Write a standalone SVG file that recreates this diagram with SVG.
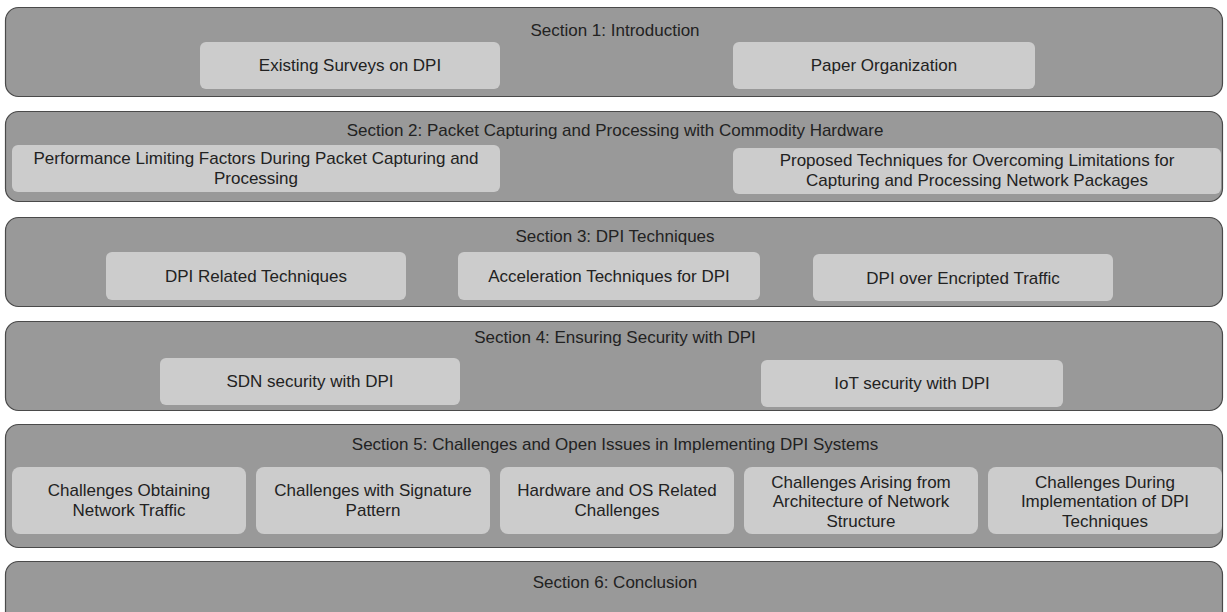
<svg xmlns="http://www.w3.org/2000/svg" width="1227" height="612" viewBox="0 0 1227 612">
<style>
.sec{fill:#999999;stroke:#4a4a4a;stroke-width:1.2}
.box{fill:#cccccc;stroke:none}
text{font-family:"Liberation Sans",Arial,sans-serif;font-size:17px;fill:#222222;text-anchor:middle}
</style>
<rect width="1227" height="612" fill="#ffffff"/>
<g id="section1">
<rect class="sec" x="5.5" y="7.5" width="1217" height="89" rx="13"/>
<text x="615" y="36">Section 1: Introduction</text>
</g>
<g id="s1-surveys"><rect class="box" x="200" y="42" width="300" height="47" rx="6"/><text x="350" y="71">Existing Surveys on DPI</text></g>
<g id="s1-organization"><rect class="box" x="733" y="42" width="302" height="47" rx="6"/><text x="884" y="71">Paper Organization</text></g>

<g id="section2">
<rect class="sec" x="5.5" y="111.5" width="1217" height="90" rx="13"/>
<text x="615" y="136">Section 2: Packet Capturing and Processing with Commodity Hardware</text>
</g>
<g id="s2-factors"><rect class="box" x="12" y="145" width="488" height="47" rx="6"/><text x="256" y="164">Performance Limiting Factors During Packet Capturing and</text><text x="256" y="184">Processing</text></g>
<g id="s2-techniques"><rect class="box" x="733" y="148" width="488" height="46" rx="6"/><text x="977" y="166">Proposed Techniques for Overcoming Limitations for</text><text x="977" y="186">Capturing and Processing Network Packages</text></g>

<g id="section3">
<rect class="sec" x="5.5" y="217.5" width="1217" height="89" rx="13"/>
<text x="615" y="242">Section 3: DPI Techniques</text>
</g>
<g id="s3-related"><rect class="box" x="106" y="252" width="300" height="48" rx="6"/><text x="256" y="282">DPI Related Techniques</text></g>
<g id="s3-acceleration"><rect class="box" x="458" y="252" width="302" height="48" rx="6"/><text x="609" y="282">Acceleration Techniques for DPI</text></g>
<g id="s3-encrypted"><rect class="box" x="813" y="254" width="300" height="47" rx="6"/><text x="963" y="284">DPI over Encripted Traffic</text></g>

<g id="section4">
<rect class="sec" x="5.5" y="321.5" width="1217" height="89" rx="13"/>
<text x="615" y="343">Section 4: Ensuring Security with DPI</text>
</g>
<g id="s4-sdn"><rect class="box" x="160" y="358" width="300" height="47" rx="6"/><text x="310" y="387">SDN security with DPI</text></g>
<g id="s4-iot"><rect class="box" x="761" y="360" width="302" height="47" rx="6"/><text x="912" y="389">IoT security with DPI</text></g>

<g id="section5">
<rect class="sec" x="5.5" y="424.5" width="1217" height="123" rx="13"/>
<text x="615" y="450">Section 5: Challenges and Open Issues in Implementing DPI Systems</text>
</g>
<g id="s5-traffic"><rect class="box" x="12" y="467" width="234" height="67" rx="8"/><text x="129" y="496">Challenges Obtaining</text><text x="129" y="516">Network Traffic</text></g>
<g id="s5-signature"><rect class="box" x="256" y="467" width="234" height="67" rx="8"/><text x="373" y="496">Challenges with Signature</text><text x="373" y="516">Pattern</text></g>
<g id="s5-hardware"><rect class="box" x="500" y="467" width="234" height="67" rx="8"/><text x="617" y="496">Hardware and OS Related</text><text x="617" y="516">Challenges</text></g>
<g id="s5-architecture"><rect class="box" x="744" y="467" width="234" height="67" rx="8"/><text x="861" y="488">Challenges Arising from</text><text x="861" y="507">Architecture of Network</text><text x="861" y="527">Structure</text></g>
<g id="s5-implementation"><rect class="box" x="988" y="467" width="234" height="67" rx="8"/><text x="1105" y="488">Challenges During</text><text x="1105" y="507">Implementation of DPI</text><text x="1105" y="527">Techniques</text></g>

<g id="section6">
<rect class="sec" x="5.5" y="561.5" width="1217" height="70" rx="13"/>
<text x="615" y="588">Section 6: Conclusion</text>
</g>
<g id="connectors"></g>
</svg>
